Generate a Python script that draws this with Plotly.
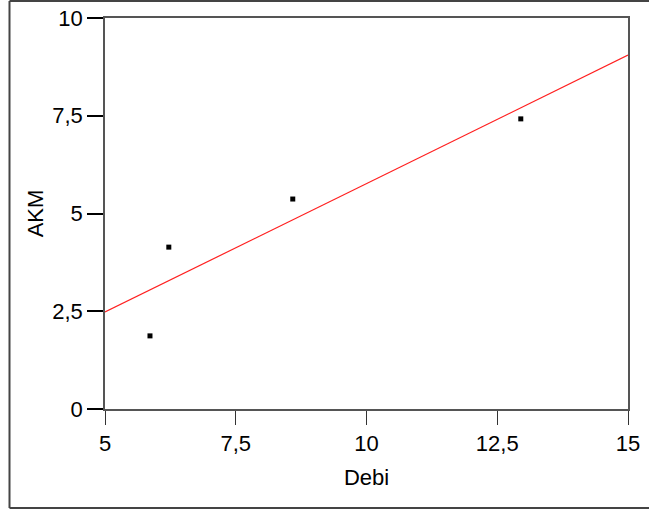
import plotly.graph_objects as go

# Data
debi = [5.86, 6.22, 8.59, 12.95]
akm = [1.87, 4.14, 5.37, 7.42]
fit_x = [5, 15]
fit_y = [2.48, 9.05]
x_tickvals = [5, 7.5, 10, 12.5, 15]
x_ticktext = ["5", "7,5", "10", "12,5", "15"]
y_tickvals = [0, 2.5, 5, 7.5, 10]
y_ticktext = ["0", "2,5", "5", "7,5", "10"]

FONT = "Liberation Sans, Arial, sans-serif"

fig = go.Figure()
fig.add_trace(go.Scatter(x=fit_x, y=fit_y, mode="lines",
                         line=dict(color="#ff2020", width=1.2), showlegend=False))
fig.add_trace(go.Scatter(x=debi, y=akm, mode="markers",
                         marker=dict(symbol="square", size=5, color="black"),
                         showlegend=False))

L, R, T, B = 105, 21, 18, 104
W, H = 649, 513
pw, ph = W - L - R, H - T - B

def px(x):
    return (x - L) / pw

def py(y):
    return (H - B - y) / ph

border = "#444444"
fig.add_shape(type="line", xref="paper", yref="paper", x0=px(9.5), x1=px(9.5), y0=py(1), y1=py(508),
              line=dict(color=border, width=2))
fig.add_shape(type="line", xref="paper", yref="paper", x0=px(9.5), x1=px(660), y0=py(1), y1=py(1),
              line=dict(color=border, width=2))
fig.add_shape(type="line", xref="paper", yref="paper", x0=px(9.5), x1=px(660), y0=py(508), y1=py(508),
              line=dict(color=border, width=2))

fig.update_layout(
    width=W, height=H,
    margin=dict(l=L, r=R, t=T, b=B, autoexpand=False),
    paper_bgcolor="white", plot_bgcolor="white",
    font=dict(family=FONT, size=22, color="black"),
    xaxis=dict(range=[5, 15], tickvals=x_tickvals, ticktext=x_ticktext,
               showgrid=False, zeroline=False, automargin=False,
               showline=True, linecolor="#555555", linewidth=1.5, mirror=True,
               ticks="outside", ticklen=14, tickwidth=1, tickcolor="#333333",
               tickfont=dict(size=22), title=dict(text="Debi", font=dict(size=22), standoff=14)),
    yaxis=dict(range=[0, 10], tickvals=y_tickvals, ticktext=y_ticktext,
               showgrid=False, zeroline=False, automargin=False,
               showline=True, linecolor="#555555", linewidth=1.5, mirror=True,
               ticks="outside", ticklen=16, tickwidth=2, tickcolor="black",
               tickfont=dict(size=22), title=dict(text="AKM", font=dict(size=22), standoff=3)),
)

fig.write_html(
    "out.html",
    config={"displayModeBar": False},
    post_script="document.body.style.margin='0';document.body.style.padding='0';"
                "document.body.style.overflow='hidden';",
)
